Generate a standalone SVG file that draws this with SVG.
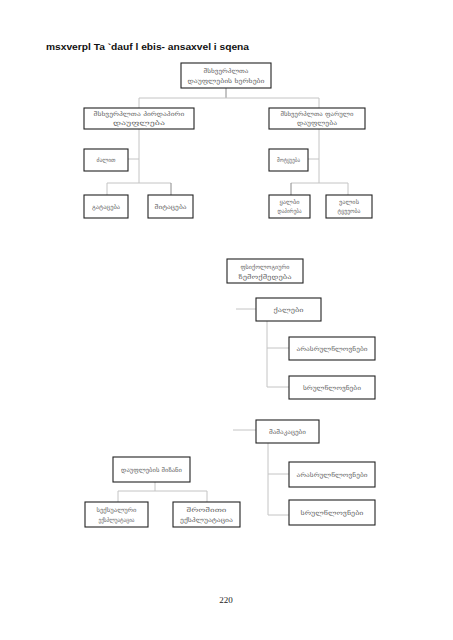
<svg xmlns="http://www.w3.org/2000/svg" width="453" height="640" viewBox="0 0 453 640">
<style>
.bx{fill:#fff;stroke:#222;stroke-width:1.1}
.t{font-family:"DejaVu Sans",sans-serif;font-size:6px;fill:#666;text-anchor:middle}
.c{fill:none;stroke:#c4c4c4;stroke-width:1}
.cd{fill:none;stroke:#8a8a8a;stroke-width:1}
.title{font-family:"Liberation Sans",Arial,sans-serif;font-weight:bold;font-size:9px;fill:#111}
.pg{font-family:"Liberation Serif","Times New Roman",serif;font-size:9px;fill:#222;text-anchor:middle}
</style>
<rect width="453" height="640" fill="#fff"/>
<text class="title" x="46" y="50" textLength="203" lengthAdjust="spacingAndGlyphs">msxverpl Ta `dauf l ebis- ansaxvel i sqena</text>

<g id="connectors">
  <path class="cd" d="M226 88V98"/>
  <path class="c" d="M139 98H319"/>
  <path class="c" d="M139 98V108M139 129V183"/>
  <path class="c" d="M128 159H139"/>
  <path class="c" d="M107 183H171M107 183V195"/>
  <path class="cd" d="M171 183V195"/>
  <path class="c" d="M319 98V108M319 129V183"/>
  <path class="c" d="M308 159H319"/>
  <path class="c" d="M291 183H348M348 183V195"/>
  <path class="cd" d="M291 183V195"/>
  <path class="c" d="M236 309H256"/>
  <path class="c" d="M267 321V387M267 348H289M267 387H289"/>
  <path class="c" d="M233 430H256"/>
  <path class="c" d="M268 443V515M268 474H289M268 515H289"/>
  <path class="c" d="M155 482V491M118 491H207M118 491V502M207 491V502"/>
</g>

<g id="n-top">
  <rect class="bx" x="181" y="63" width="90" height="25"/>
  <text class="t" x="226" y="73" textLength="45" lengthAdjust="spacingAndGlyphs">მსხვერპლთა</text>
  <text class="t" x="226" y="83" textLength="77" lengthAdjust="spacingAndGlyphs">დაუფლების ხერხები</text>
</g>
<g id="n-direct">
  <rect class="bx" x="84" y="108" width="110" height="21"/>
  <text class="t" x="139" y="116" textLength="91" lengthAdjust="spacingAndGlyphs">მსხვერპლთა პირდაპირი</text>
  <text class="t" x="139" y="125" textLength="52" lengthAdjust="spacingAndGlyphs">დაუფლება</text>
</g>
<g id="n-covert">
  <rect class="bx" x="269" y="108" width="96" height="21"/>
  <text class="t" x="317" y="116" textLength="73" lengthAdjust="spacingAndGlyphs">მსხვერპლთა ფარული</text>
  <text class="t" x="317" y="125" textLength="40" lengthAdjust="spacingAndGlyphs">დაუფლება</text>
</g>
<g id="n-force">
  <rect class="bx" x="84" y="149" width="44" height="22"/>
  <text class="t" x="106" y="162" textLength="19" lengthAdjust="spacingAndGlyphs">ძალით</text>
</g>
<g id="n-abduct">
  <rect class="bx" x="84" y="195" width="44" height="23"/>
  <text class="t" x="106" y="209" textLength="28" lengthAdjust="spacingAndGlyphs">გატაცება</text>
</g>
<g id="n-seize">
  <rect class="bx" x="148" y="195" width="45" height="23"/>
  <text class="t" x="170.5" y="209" textLength="32" lengthAdjust="spacingAndGlyphs">მიტაცება</text>
</g>
<g id="n-deceit">
  <rect class="bx" x="269" y="149" width="39" height="22"/>
  <text class="t" x="288.5" y="162" textLength="23" lengthAdjust="spacingAndGlyphs">მოტყუება</text>
</g>
<g id="n-promise">
  <rect class="bx" x="269" y="195" width="41" height="23"/>
  <text class="t" x="289.5" y="204" textLength="20" lengthAdjust="spacingAndGlyphs">ყალბი</text>
  <text class="t" x="289.5" y="213" textLength="24" lengthAdjust="spacingAndGlyphs">დაპირება</text>
</g>
<g id="n-debt">
  <rect class="bx" x="326" y="195" width="46" height="23"/>
  <text class="t" x="349" y="204" textLength="20" lengthAdjust="spacingAndGlyphs">ვალის</text>
  <text class="t" x="349" y="213" textLength="23" lengthAdjust="spacingAndGlyphs">ტყვეობა</text>
</g>

<g id="n-psych">
  <rect class="bx" x="227" y="259" width="76" height="24"/>
  <text class="t" x="265" y="269" textLength="49" lengthAdjust="spacingAndGlyphs">ფსიქოლოგიური</text>
  <text class="t" x="265" y="279" textLength="53" lengthAdjust="spacingAndGlyphs">ზემოქმედება</text>
</g>
<g id="n-women">
  <rect class="bx" x="256" y="298" width="65" height="23"/>
  <text class="t" x="288.5" y="312" textLength="30" lengthAdjust="spacingAndGlyphs">ქალები</text>
</g>
<g id="n-women-minor">
  <rect class="bx" x="289" y="337" width="86" height="23"/>
  <text class="t" x="332" y="351" textLength="71" lengthAdjust="spacingAndGlyphs">არასრულწლოვნები</text>
</g>
<g id="n-women-adult">
  <rect class="bx" x="289" y="376" width="86" height="23"/>
  <text class="t" x="332" y="390" textLength="58" lengthAdjust="spacingAndGlyphs">სრულწლოვნები</text>
</g>
<g id="n-men">
  <rect class="bx" x="256" y="420" width="63" height="23"/>
  <text class="t" x="287.5" y="434" textLength="37" lengthAdjust="spacingAndGlyphs">მამაკაცები</text>
</g>
<g id="n-men-minor">
  <rect class="bx" x="289" y="462" width="86" height="25"/>
  <text class="t" x="332" y="477" textLength="71" lengthAdjust="spacingAndGlyphs">არასრულწლოვნები</text>
</g>
<g id="n-men-adult">
  <rect class="bx" x="289" y="500" width="86" height="25"/>
  <text class="t" x="332" y="515" textLength="63" lengthAdjust="spacingAndGlyphs">სრულწლოვნები</text>
</g>

<g id="n-purpose">
  <rect class="bx" x="113" y="457" width="77" height="25"/>
  <text class="t" x="151.5" y="472" textLength="61" lengthAdjust="spacingAndGlyphs">დაუფლების მიზანი</text>
</g>
<g id="n-sexual">
  <rect class="bx" x="85" y="502" width="63" height="25"/>
  <text class="t" x="116.5" y="512" textLength="40" lengthAdjust="spacingAndGlyphs">სექსუალური</text>
  <text class="t" x="116.5" y="522" textLength="36" lengthAdjust="spacingAndGlyphs">ექსპლუატაცია</text>
</g>
<g id="n-labour">
  <rect class="bx" x="173" y="502" width="67" height="25"/>
  <text class="t" x="206.5" y="512" textLength="40" lengthAdjust="spacingAndGlyphs">შრომითი</text>
  <text class="t" x="206.5" y="522" textLength="53" lengthAdjust="spacingAndGlyphs">ექსპლუატაცია</text>
</g>

<text class="pg" x="226" y="603">220</text>
</svg>
